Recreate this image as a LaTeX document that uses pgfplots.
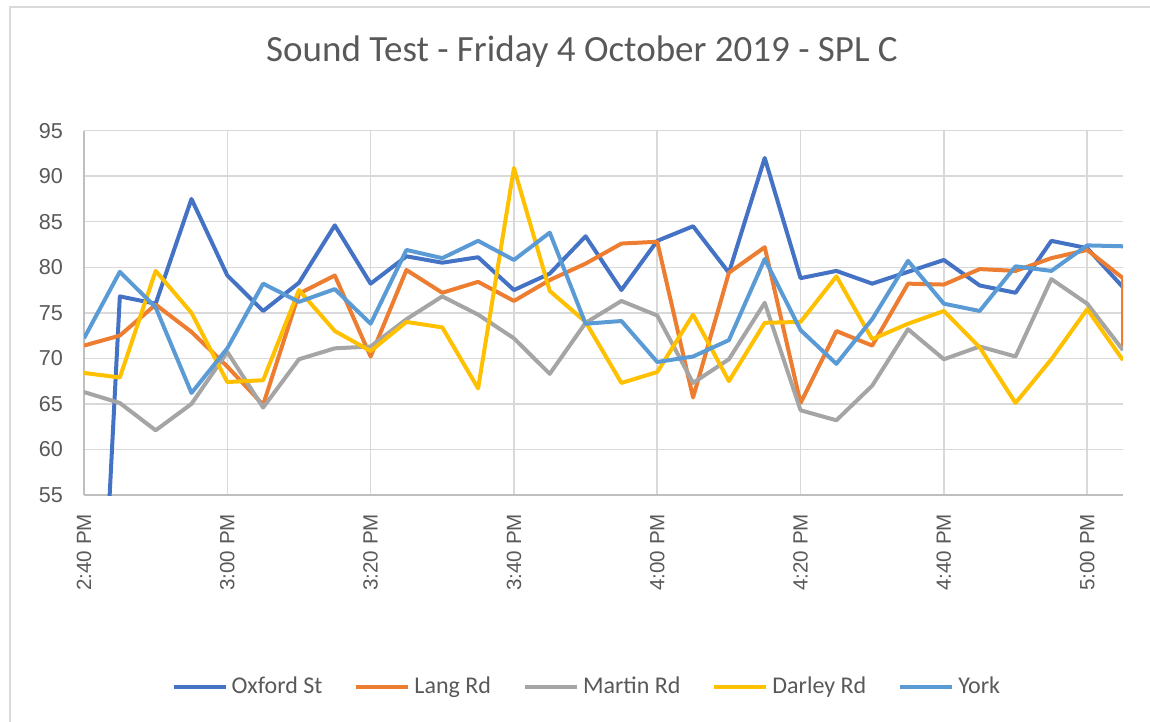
\documentclass[border=0pt]{standalone}
\usepackage{pgfplots}
\pgfplotsset{compat=1.18}
\usepackage{pgfplotstable}
\usepackage{fontspec}
\setmainfont{Carlito}
\newfontfamily\arialf{Liberation Sans}
\definecolor{oxford}{HTML}{4472C4}
\definecolor{lang}{HTML}{ED7D31}
\definecolor{martin}{HTML}{A5A5A5}
\definecolor{darley}{HTML}{FFC000}
\definecolor{york}{HTML}{5B9BD5}
\definecolor{txt}{HTML}{595959}
\definecolor{gridc}{HTML}{D9D9D9}
\definecolor{axc}{HTML}{BFBFBF}

% t = minutes after 2:40 PM
\pgfplotstableread{
t oxford lang martin darley york
0 0 71.4 66.3 68.4 72.2
5 76.8 72.5 65.1 67.9 79.5
10 76.0 75.9 62.1 79.6 75.6
15 87.5 72.9 65.0 75.0 66.2
20 79.1 69.1 70.7 67.4 71.1
25 75.2 64.9 64.6 67.6 78.2
30 78.3 77.1 69.9 77.5 76.2
35 84.6 79.1 71.1 73.0 77.6
40 78.2 70.2 71.3 70.8 73.8
45 81.2 79.7 74.3 74.0 81.9
50 80.5 77.2 76.8 73.4 81.0
55 81.1 78.4 74.8 66.7 82.9
60 77.5 76.3 72.2 90.9 80.8
65 79.3 78.6 68.3 77.4 83.8
70 83.4 80.4 73.9 74.0 73.8
75 77.5 82.6 76.3 67.3 74.1
80 82.9 82.8 74.7 68.5 69.6
85 84.5 65.7 67.3 74.8 70.2
90 79.4 79.4 69.9 67.5 72.0
95 92.0 82.2 76.1 73.9 80.9
100 78.8 65.1 64.3 74.0 73.1
105 79.6 73.0 63.2 79.0 69.4
110 78.2 71.4 67.0 72.1 74.3
115 79.5 78.2 73.2 73.8 80.7
120 80.8 78.1 69.9 75.2 76.0
125 78.0 79.8 71.3 71.2 75.2
130 77.2 79.6 70.2 65.1 80.1
135 82.9 81.0 78.7 69.9 79.6
140 82.1 81.9 76.0 75.4 82.4
145 77.8 78.8 70.9 69.8 82.3
}\data

\begin{document}
\begin{tikzpicture}
\useasboundingbox (0,0) rectangle (575pt,-361pt);
\draw[color=gridc, line width=0.75pt] (5pt,-361pt) -- (5pt,-3.5pt) -- (575pt,-3.5pt);
\node[text=txt, font=\fontsize{18.5}{22}\selectfont] at (291pt,-26pt) {Sound Test - Friday 4 October 2019 - SPL C};
\begin{axis}[
  at={(42pt,-247.5pt)}, anchor=south west,
  scale only axis, width=519.5pt, height=182.2pt,
  xmin=0, xmax=145, ymin=55, ymax=95,
  xtick={0,20,40,60,80,100,120,140},
  xticklabels={2:40 PM,3:00 PM,3:20 PM,3:40 PM,4:00 PM,4:20 PM,4:40 PM,5:00 PM},
  ytick={55,60,...,95},
  axis x line=bottom, axis y line=left,
  axis line style={draw=axc, line width=0.75pt, -},
  xmajorgrids, ymajorgrids,
  grid style={draw=gridc, line width=0.75pt},
  major tick length=0pt,
  /pgf/number format/assume math mode=true,
  tick label style={font=\arialf\fontsize{10.3}{12}\selectfont, text=txt},
  yticklabel style={font=\arialf\fontsize{10.8}{12}\selectfont, xshift=-7pt},
  xticklabel style={rotate=90, anchor=east, yshift=0pt, xshift=-6pt},
  legend columns=5,
  legend style={at={(0.485,-0.527)}, anchor=center, draw=none, fill=none,
    font=\fontsize{12}{14}\selectfont, text=txt,
    /tikz/every even column/.append style={column sep=14pt}},
  legend image code/.code={\draw[#1, line width=2pt] (0pt,0pt) -- (26pt,0pt);},
  every axis plot/.append style={line width=2pt, line join=round, mark=none},
]
\addplot[color=oxford] table[x=t, y=oxford] {\data};
\addlegendentry{Oxford St}
\addplot[color=lang] table[x=t, y=lang] {\data} -- (145,71.3);
\addlegendentry{Lang Rd}
\addplot[color=martin] table[x=t, y=martin] {\data};
\addlegendentry{Martin Rd}
\addplot[color=darley] table[x=t, y=darley] {\data};
\addlegendentry{Darley Rd}
\addplot[color=york] table[x=t, y=york] {\data};
\addlegendentry{York}
\end{axis}
\end{tikzpicture}
\end{document}
